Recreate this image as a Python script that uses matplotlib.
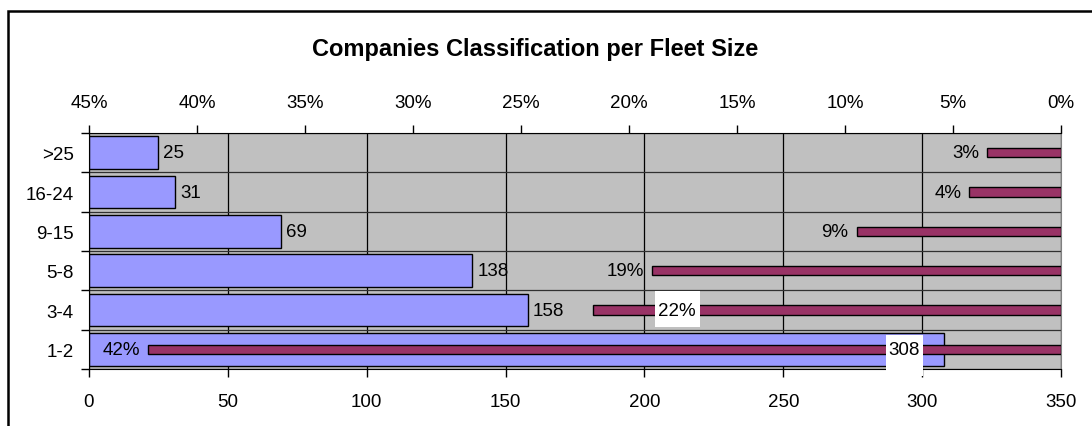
import numpy as np
import matplotlib.pyplot as plt
from matplotlib.patches import Rectangle
from matplotlib.transforms import IdentityTransform

plt.rcParams['font.family'] = ['Liberation Sans', 'DejaVu Sans']

# companies per fleet size (bottom to top)
categories = ['1-2', '3-4', '5-8', '9-15', '16-24', '>25']
companies = [308, 158, 138, 69, 31, 25]
total = sum(companies)
share = [100 * c / total for c in companies]

count_ticks = [0, 50, 100, 150, 200, 250, 300, 350]
share_ticks = [45, 40, 35, 30, 25, 20, 15, 10, 5, 0]

FS = 13.5
W, H = 1092, 427
fig = plt.figure(figsize=(W / 100, H / 100), dpi=100)
ax = fig.add_axes([89 / W, (H - 370) / H, 972 / W, 236 / H])
ax.set_facecolor('#c0c0c0')

y = np.arange(len(categories))
ax.barh(y, companies, height=0.83, color='#9999ff', edgecolor='black', linewidth=1, zorder=2)
ax.set_xlim(0, 350)
ax.set_ylim(-0.5, len(categories) - 0.5)
ax.set_xticks(count_ticks)
ax.set_xticklabels([str(t) for t in count_ticks])

# category labels sit between the boundary ticks
ax.set_yticks(np.arange(-0.5, len(categories)), minor=False)
ax.set_yticklabels([])
ax.set_yticks(y, minor=True)
ax.set_yticklabels(categories, minor=True)
ax.tick_params(axis='y', which='major', length=6, width=1, direction='out')
ax.tick_params(axis='y', which='minor', length=0, pad=11, labelsize=FS)
ax.tick_params(axis='x', length=6, width=1, direction='out', pad=11, labelsize=FS)

ax.grid(axis='x', color='black', linewidth=0.9, zorder=1)
ax.grid(axis='y', which='major', color='#303030', linewidth=0.9, zorder=1)
ax.set_axisbelow(True)
for s in ['left', 'bottom', 'top']:
    ax.spines[s].set_color('black')
ax.spines['right'].set_color('#808080')

# share axis on top, running from 45% down to 0%
ax2 = ax.twiny()
ax2.barh(y, share, height=0.23, color='#993366', edgecolor='black', linewidth=1, zorder=3)
ax2.set_xlim(45, 0)
ax2.set_xticks(share_ticks)
ax2.set_xticklabels([f'{t}%' for t in share_ticks])
ax2.tick_params(axis='x', length=6, width=1, direction='out', pad=9.5, labelsize=FS)
for s in ax2.spines.values():
    s.set_visible(False)


def boxed_label(text, trans, x, yv, dx, left, right, below, above):
    # white label box, sizes in pixels around the text centre
    px, py = trans.transform((x, yv))
    cx = px + dx
    ax2.add_artist(Rectangle((cx - left, py - below), left + right, below + above,
                             transform=IdentityTransform(), facecolor='white',
                             edgecolor='none', zorder=4, clip_on=False))
    ax2.text(cx, py, text, transform=IdentityTransform(), ha='center', va='center',
             fontsize=FS, zorder=5, clip_on=False)


# value labels
for i, c in enumerate(companies):
    if c == max(companies):
        boxed_label(str(c), ax.transData, c, y[i], -40, 18, 19, 27, 14)
    else:
        ax2.annotate(str(c), xy=(c, y[i]), xycoords=ax.transData,
                     xytext=(5, 0), textcoords='offset pixels',
                     ha='left', va='center', fontsize=FS, zorder=5)

for i, p in enumerate(share):
    if categories[i] == '3-4':
        boxed_label(f'{p:.0f}%', ax2.transData, p, y[i], 84, 22, 23, 17, 19)
    else:
        ax2.annotate(f'{p:.0f}%', xy=(p, y[i]), xytext=(-8, 0), textcoords='offset pixels',
                     ha='right', va='center', fontsize=FS, zorder=5)

fig.text(535 / W, 1 - 56 / H, 'Companies Classification per Fleet Size',
         ha='center', va='baseline', fontsize=17, fontweight='bold')

# chart border
fig.patches.append(Rectangle((7.5 / W, -0.1), 1.2, 1 - 11.5 / H + 0.1, transform=fig.transFigure,
                             fill=False, edgecolor='black', linewidth=1.8))

fig.savefig('out.png', dpi=100)
